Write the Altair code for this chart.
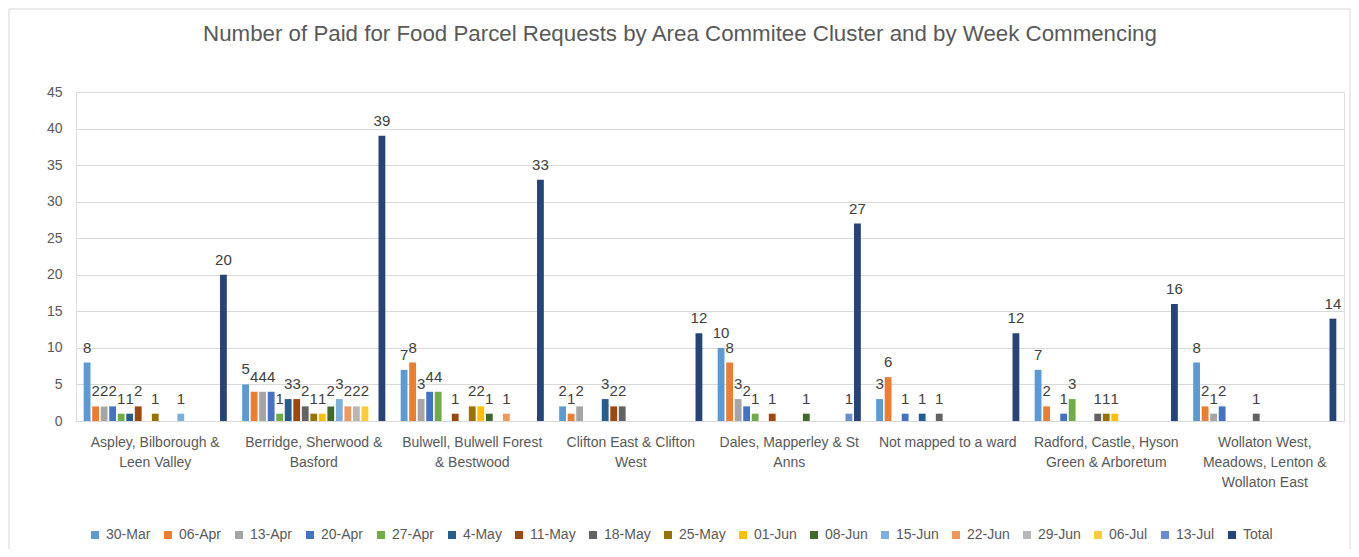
import json
import altair as alt
import pandas as pd

series = ["30-Mar", "06-Apr", "13-Apr", "20-Apr", "27-Apr", "4-May", "11-May", "18-May",
          "25-May", "01-Jun", "08-Jun", "15-Jun", "22-Jun", "29-Jun", "06-Jul", "13-Jul", "Total"]

colors = ["#5B9BD5", "#ED7D31", "#A5A5A5", "#4472C4", "#70AD47", "#255E91", "#9E480E", "#636363",
          "#997300", "#FFC000", "#43682B", "#7CAFDD", "#F1975A", "#B7B7B7", "#FFCD33", "#698ED0", "#264478"]

clusters = ["Aspley, Bilborough & Leen Valley", "Berridge, Sherwood & Basford",
            "Bulwell, Bulwell Forest & Bestwood", "Clifton East & Clifton West",
            "Dales, Mapperley & St Anns", "Not mapped to a ward",
            "Radford, Castle, Hyson Green & Arboretum", "Wollaton West, Meadows, Lenton & Wollaton East"]

cluster_lines = [["Aspley, Bilborough &", "Leen Valley"],
                 ["Berridge, Sherwood &", "Basford"],
                 ["Bulwell, Bulwell Forest", "& Bestwood"],
                 ["Clifton East & Clifton", "West"],
                 ["Dales, Mapperley & St", "Anns"],
                 ["Not mapped to a ward"],
                 ["Radford, Castle, Hyson", "Green & Arboretum"],
                 ["Wollaton West,", "Meadows, Lenton &", "Wollaton East"]]

aspley = [8, 2, 2, 2, 1, 1, 2, 0, 1, 0, 0, 1, 0, 0, 0, 0, 20]
berridge = [5, 4, 4, 4, 1, 3, 3, 2, 1, 1, 2, 3, 2, 2, 2, 0, 39]
bulwell = [7, 8, 3, 4, 4, 0, 1, 0, 2, 2, 1, 0, 1, 0, 0, 0, 33]
clifton = [2, 1, 2, 0, 0, 3, 2, 2, 0, 0, 0, 0, 0, 0, 0, 0, 12]
dales = [10, 8, 3, 2, 1, 0, 1, 0, 0, 0, 1, 0, 0, 0, 0, 1, 27]
notmapped = [3, 6, 0, 1, 0, 1, 0, 1, 0, 0, 0, 0, 0, 0, 0, 0, 12]
radford = [7, 2, 0, 1, 3, 0, 0, 1, 1, 1, 0, 0, 0, 0, 0, 0, 16]
wollaton = [8, 2, 1, 2, 0, 0, 0, 1, 0, 0, 0, 0, 0, 0, 0, 0, 14]

y_ticks = [0, 5, 10, 15, 20, 25, 30, 35, 40, 45]

title_text = "Number of Paid for Food Parcel Requests by Area Commitee Cluster and by Week Commencing"

rows = []
for cl, vals in zip(clusters, [aspley, berridge, bulwell, clifton, dales, notmapped, radford, wollaton]):
    for s, v in zip(series, vals):
        if v > 0:
            rows.append({"cluster": cl, "series": s, "value": v})
df = pd.DataFrame(rows)

label_expr = "{" + ",".join(f"{json.dumps(k)}: {json.dumps(v)}" for k, v in zip(clusters, cluster_lines)) + "}[datum.label]"

FONT = "Liberation Sans"
TXT = "#595959"

x_enc = alt.X("cluster:N", sort=clusters,
              scale=alt.Scale(domain=clusters, paddingInner=0, paddingOuter=0),
              axis=alt.Axis(title=None, labelAngle=0, labelExpr=label_expr, labelFontSize=14,
                            labelColor=TXT, labelFont=FONT, labelLineHeight=20, labelPadding=14,
                            ticks=False, domainColor="#D9D9D9", grid=False, labelLimit=300))
xo_enc = alt.XOffset("series:N", sort=series,
                     scale=alt.Scale(domain=series, paddingInner=0.2, paddingOuter=0.9))
y_enc = alt.Y("value:Q", scale=alt.Scale(domain=[0, 45], nice=False),
              axis=alt.Axis(title=None, values=y_ticks, labelFontSize=14, labelColor=TXT,
                            labelFont=FONT, ticks=False, domain=False, gridColor="#D9D9D9",
                            labelPadding=14, labelOverlap=False))

base = alt.Chart(df)

bars = base.mark_bar().encode(
    x=x_enc, xOffset=xo_enc, y=y_enc,
    color=alt.Color("series:N", sort=series, title=None,
                    scale=alt.Scale(domain=series, range=colors),
                    legend=alt.Legend(orient="none", legendX=12, legendY=436, direction="horizontal",
                                      columns=17, columnPadding=10, symbolType="square",
                                      symbolSize=64, symbolStrokeWidth=0, labelFontSize=14,
                                      labelColor=TXT, labelFont=FONT, labelOffset=4)),
)

labels = base.mark_text(baseline="bottom", dy=-7, fontSize=15, font=FONT, color="#404040").encode(
    x=x_enc, xOffset=xo_enc, y=y_enc, text=alt.Text("value:Q"),
)

border = alt.Chart(pd.DataFrame({"k": [0]})).mark_rect(
    fill=None, stroke="#D9D9D9", strokeWidth=1
).encode(x=alt.value(-67), x2=alt.value(1274), y=alt.value(-83), y2=alt.value(480))

chart = alt.layer(border, bars, labels).properties(
    width=1268, height=329,
    autosize=alt.AutoSizeParams(type="none"),
    padding={"left": 68, "top": 84, "right": 7, "bottom": 128},
    title=alt.TitleParams(title_text, fontSize=22.3, color=TXT, font=FONT, fontWeight="normal",
                          anchor="middle", frame="group", dx=-30, offset=-37),
).configure_view(stroke=None).configure(background="white")

chart.save("out.html", embed_options={"renderer": "svg", "actions": False})
